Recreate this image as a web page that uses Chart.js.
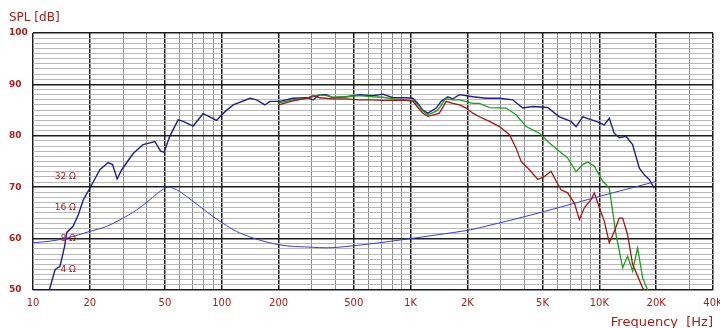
<!DOCTYPE html>
<html lang="en">
<head>
  <meta charset="UTF-8" />
  <title>SPL / Frequency</title>
  <script src="https://cdn.jsdelivr.net/npm/chart.js"></script>
  <style>
    body {
      margin: 0;
      background: #fff;
    }
    #wrap {
      width: 720px;
      height: 328px;
    }
  </style>
</head>
<body>
<div id="wrap"><canvas id="chart-spl" width="720" height="328"></canvas></div>

<script>
  // [frequency Hz, SPL dB]
  const curveBlue = [
    [12.2, 50], [13.1, 54], [13.9, 54.6], [14.7, 58.5], [15.1, 61.2], [16.3, 62.4],
    [17.4, 64.7], [18.5, 67.6], [20, 69.8], [22.6, 73.4], [25, 74.8], [26.4, 74.4],
    [27.9, 71.6], [29.5, 73.4], [34, 76.6], [38.3, 78.3], [44.2, 78.9], [47.4, 77],
    [49.5, 76.8], [53, 79.9], [58.7, 83.1], [62.4, 82.8], [70.5, 81.9], [79.6, 84.3],
    [86.4, 83.7], [93.7, 83], [104, 84.7], [115, 86], [141, 87.3], [153, 87],
    [169, 86], [180, 86.7], [203, 86.7], [238, 87.3], [281, 87.4], [305, 87],
    [330, 88], [358, 88], [388, 87.4], [457, 87.6], [537, 88], [631, 87.8],
    [713, 88.1], [806, 87.4], [949, 87.4], [1028, 87.3], [1094, 86.3], [1162, 85],
    [1235, 84.4], [1368, 85.4], [1453, 86.7], [1575, 87.6], [1674, 87.2], [1816, 88],
    [2137, 87.6], [2512, 87.3], [2958, 87.3], [3476, 87], [3928, 85.4], [4436, 85.7],
    [5322, 85.5], [6136, 83.7], [7079, 82.8], [7530, 81.8], [8166, 83.7], [9600, 82.8],
    [10620, 82.1], [11290, 83.4], [11990, 80.5], [12760, 79.6], [13840, 79.9], [15000, 78.3],
    [16290, 73.7], [17300, 72.4], [18380, 71.5], [19540, 69.8]
  ];

  const curveGreen = [
    [200, 86.4], [238, 87], [281, 87.3], [305, 87.6], [330, 88], [358, 87.8],
    [388, 87.5], [457, 87.6], [537, 87.8], [631, 87.6], [713, 87.5], [806, 87.2],
    [949, 87], [1028, 86.9], [1094, 86], [1162, 84.8], [1235, 84.1], [1368, 84.8],
    [1420, 85.4], [1530, 87.2], [1674, 87], [1816, 87], [2137, 86.3], [2317, 86.3],
    [2618, 85.5], [3206, 85.4], [3623, 84.1], [4093, 81.8], [4815, 80.5], [5437, 78.6],
    [6136, 77], [6792, 75.7], [7530, 73], [8166, 74.4], [8675, 74.9], [9410, 74.1],
    [10410, 71.2], [11290, 69.8], [11760, 65.3], [12250, 60.8], [13290, 54.3], [14110, 56.6],
    [15000, 53.7], [15950, 58.2], [16950, 52.4], [18030, 50]
  ];

  const curveRed = [
    [200, 86], [238, 86.8], [281, 87.3], [305, 87.8], [330, 87.4], [388, 87.2],
    [457, 87.2], [537, 87], [631, 87], [713, 86.9], [806, 86.9], [949, 86.9],
    [1028, 86.7], [1094, 85.5], [1162, 84.4], [1235, 83.8], [1368, 84.2], [1420, 84.4],
    [1545, 86.7], [1674, 86.3], [1816, 86], [1970, 85.4], [2137, 84.4], [2317, 83.7],
    [2618, 82.8], [2958, 81.8], [3342, 80.2], [3623, 77.6], [3853, 75], [4264, 73.4],
    [4718, 71.5], [5117, 72.1], [5548, 73.1], [5897, 71.2], [6270, 69.5], [6792, 68.9],
    [7375, 66.9], [7836, 63.7], [8330, 66], [9036, 67.6], [9410, 68.9], [10000, 66],
    [10620, 63.4], [11290, 59.2], [11990, 61.4], [12760, 64], [13290, 64], [14110, 60.8],
    [15000, 55], [15950, 52.7], [16950, 50.4], [17400, 50]
  ];

  // [frequency Hz, impedance ohm]
  const curveImpedance = [
    [10, 7.3], [12.3, 7.55], [15.1, 8.09], [20, 9.4], [24.5, 10.5], [28.9, 12.2],
    [35.4, 15.2], [41.6, 19.1], [47, 23], [52, 25.3], [57.6, 23.9], [65, 20.6],
    [76.3, 16.5], [90, 13.1], [106, 10.7], [124.5, 9.08], [200, 6.98], [303, 6.59],
    [358, 6.51], [500, 6.82], [687, 7.3], [1000, 8], [1420, 8.77], [2000, 9.62],
    [2317, 10.2], [5130, 14.7], [10000, 20.6], [19700, 28.6]
  ];

  const freqGrid = [
    10, 20, 30, 40, 50, 60, 70, 80, 90,
    100, 200, 300, 400, 500, 600, 700, 800, 900,
    1000, 2000, 3000, 4000, 5000, 6000, 7000, 8000, 9000,
    10000, 20000, 30000, 40000
  ];
  const freqLabels = {
    10: "10", 20: "20", 50: "50", 100: "100", 200: "200", 500: "500",
    1000: "1K", 2000: "2K", 5000: "5K", 10000: "10K", 20000: "20K", 40000: "40K"
  };
  const ohmLabels = [32, 16, 8, 4];

  const red = "#a3201f";
  const font = "'DejaVu Sans', sans-serif";

  const toPoints = arr => arr.map(p => ({ x: p[0], y: p[1] }));

  // impedance labels drawn on the hidden ohm axis
  const ohmText = {
    id: "ohmText",
    afterDatasetsDraw(chart) {
      const { ctx, chartArea, scales } = chart;
      ctx.save();
      ctx.font = "9px " + font;
      ctx.fillStyle = red;
      ctx.textAlign = "right";
      ctx.textBaseline = "middle";
      ohmLabels.forEach(z => {
        ctx.fillText(z + " Ω", chartArea.left + 43, scales.yZ.getPixelForValue(z));
      });
      ctx.restore();
    }
  };

  const ctx = document.getElementById("chart-spl").getContext("2d");
  const chart = new Chart(ctx, {
    type: "line",
    data: {
      datasets: [
        { data: toPoints(curveImpedance), yAxisID: "yZ", borderColor: "#3b3bdc", borderWidth: 1, cubicInterpolationMode: "monotone" },
        { data: toPoints(curveRed), yAxisID: "y", borderColor: "#a01515", borderWidth: 1.3 },
        { data: toPoints(curveGreen), yAxisID: "y", borderColor: "#1d9e1d", borderWidth: 1.3 },
        { data: toPoints(curveBlue), yAxisID: "y", borderColor: "#1e1e8e", borderWidth: 1.4 }
      ]
    },
    options: {
      responsive: false,
      animation: false,
      devicePixelRatio: 1,
      elements: { point: { radius: 0 }, line: { tension: 0 } },
      layout: { padding: { left: 9, right: 7, top: 0, bottom: 0 } },
      plugins: {
        legend: { display: false },
        tooltip: { enabled: false },
        title: {
          display: true,
          text: "SPL [dB]",
          align: "start",
          color: red,
          font: { family: font, size: 12, weight: "normal", lineHeight: 1.2 },
          padding: { top: 11, bottom: 7.6 }
        }
      },
      scales: {
        x: {
          type: "logarithmic",
          min: 10,
          max: 40000,
          bounds: "data",
          afterBuildTicks: s => { s.ticks = freqGrid.map(v => ({ value: v })); },
          afterFit: s => { s.height = 38; s.paddingLeft = 0; s.paddingRight = 0; },
          ticks: {
            autoSkip: false,
            maxRotation: 0,
            padding: 7,
            color: red,
            font: { family: font, size: 10 },
            callback: v => freqLabels[v] || ""
          },
          grid: {
            drawTicks: false,
            color: c => (freqLabels[c.tick.value] ? "#1c1c1c" : "#8c8c8c"),
            lineWidth: c => (freqLabels[c.tick.value] ? 1.5 : 1)
          },
          border: { display: false },
          title: {
            display: true,
            text: "Frequency  [Hz]",
            align: "end",
            color: red,
            font: { family: font, size: 13, lineHeight: 1 },
            padding: { top: 0, bottom: -1.5 }
          }
        },
        y: {
          min: 50,
          max: 100,
          bounds: "data",
          afterFit: s => { s.width = 24; s.paddingTop = 0; s.paddingBottom = 0; },
          ticks: {
            stepSize: 1,
            autoSkip: false,
            crossAlign: "far",
            padding: 0,
            color: red,
            font: { family: font, size: 9, weight: "bold" },
            callback: v => (v % 10 === 0 ? String(v) : "")
          },
          grid: {
            drawTicks: false,
            color: c => (c.tick.value % 10 === 0 ? "#1c1c1c" : "#b8b8b8"),
            lineWidth: c => (c.tick.value % 10 === 0 ? 1.5 : 1)
          },
          border: { display: false }
        },
        yZ: {
          type: "logarithmic",
          display: false,
          bounds: "data",
          min: 8 / Math.sqrt(10),
          max: 800
        }
      }
    },
    plugins: [ohmText]
  });
</script>
</body>
</html>
